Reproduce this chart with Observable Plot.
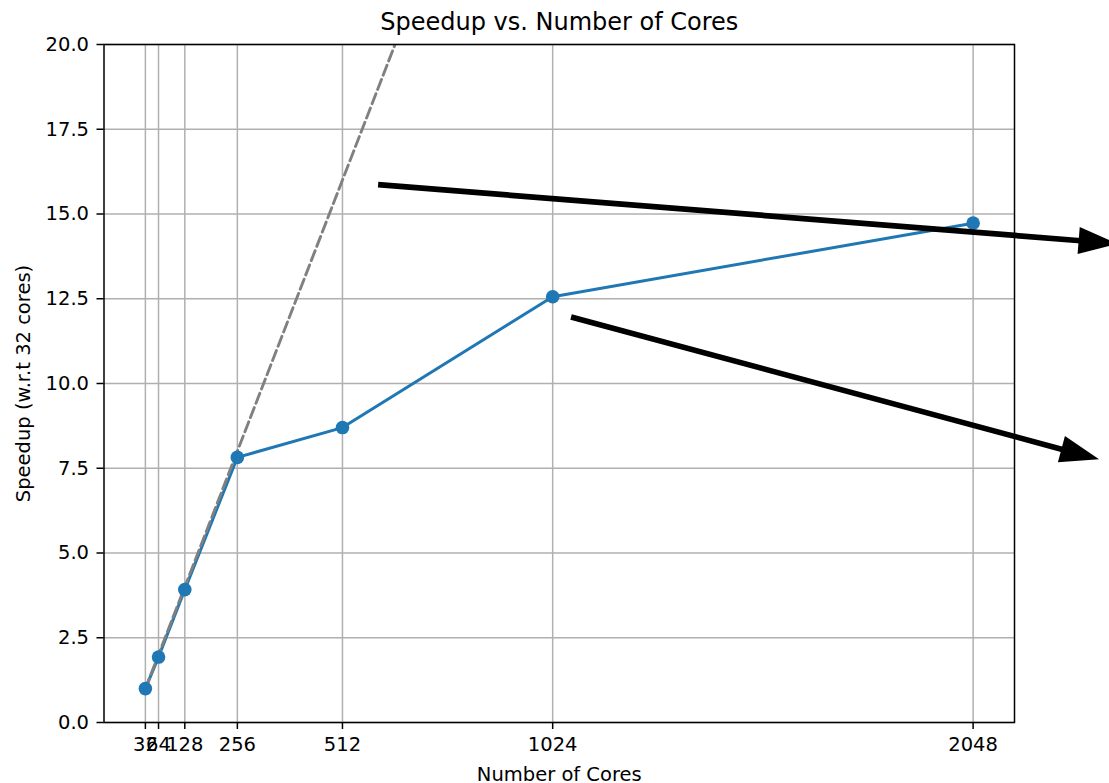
<!DOCTYPE html>
<html><head><meta charset="utf-8">
<script src="https://cdn.jsdelivr.net/npm/d3@7"></script>
<script src="https://cdn.jsdelivr.net/npm/@observablehq/plot@0.6"></script>
<style>
html,body{margin:0;padding:0;background:#fff;overflow:hidden;}
#chart svg{overflow:hidden;display:block;}
</style></head><body><div id="chart"></div>
<script>
const cores = [32, 64, 128, 256, 512, 1024, 2048];
const speedup = [1.0, 1.93, 3.92, 7.82, 8.70, 12.56, 14.73];
const idealSpeedup = [1, 2, 4, 8, 16, 32, 64];
const yTicks = [0, 2.5, 5, 7.5, 10, 12.5, 15, 17.5, 20];
const arrowFromX = [600, 1070];
const arrowFromY = [15.85, 11.95];
const arrowToX = [2401, 2356];
const arrowToY = [14.11, 7.75];
const title = "Speedup vs. Number of Cores";
const xLabel = "Number of Cores";
const yLabel = "Speedup (w.r.t 32 cores)";

const measured = cores.map((c, i) => ({cores: c, speedup: speedup[i]}));
const ideal = cores.map((c, i) => ({cores: c, speedup: idealSpeedup[i]}));
const arrows = arrowFromX.map((x, i) => ({x1: x, y1: arrowFromY[i], x2: arrowToX[i], y2: arrowToY[i]}));

const font = "DejaVu Sans, sans-serif";

function filledArrows(data, {shaft = 5.7, headLength = 39, headWidth = 27} = {}) {
  return (index, scales, values, dimensions, context) => {
    const g = d3.create("svg:g").attr("aria-label", "annotation arrows");
    for (const a of data) {
      const x1 = scales.x(a.x1), y1 = scales.y(a.y1), x2 = scales.x(a.x2), y2 = scales.y(a.y2);
      const dx = x2 - x1, dy = y2 - y1, L = Math.hypot(dx, dy), ux = dx / L, uy = dy / L;
      const bx = x2 - ux * headLength, by = y2 - uy * headLength;
      const px = -uy, py = ux, hw = headWidth / 2;
      g.append("line")
        .attr("x1", x1).attr("y1", y1)
        .attr("x2", bx + ux * 2).attr("y2", by + uy * 2)
        .attr("stroke", "black").attr("stroke-width", shaft);
      g.append("path")
        .attr("d", `M${x2},${y2}L${bx + px * hw},${by + py * hw}L${bx - px * hw},${by - py * hw}Z`)
        .attr("fill", "black");
    }
    return g.node();
  };
}

const chart = Plot.plot({
  width: 1109,
  height: 783,
  marginLeft: 103.5,
  marginRight: 95,
  marginTop: 44,
  marginBottom: 61,
  style: {fontFamily: font, fontSize: "19.5px", color: "black", background: "white"},
  x: {domain: [-68.8, 2148.8]},
  y: {domain: [0, 20]},
  marks: [
    Plot.gridX(cores, {stroke: "#b0b0b0", strokeOpacity: 1, strokeWidth: 1.5}),
    Plot.gridY(yTicks, {stroke: "#b0b0b0", strokeOpacity: 1, strokeWidth: 1.5}),
    Plot.line(measured, {x: "cores", y: "speedup", stroke: "#1f77b4", strokeWidth: 3}),
    Plot.line(ideal, {x: "cores", y: "speedup", stroke: "#808080", strokeWidth: 2.9, strokeDasharray: "10.7,4.6", clip: true}),
    Plot.dot(measured, {x: "cores", y: "speedup", r: 6.8, fill: "#1f77b4", stroke: "none"}),
    Plot.frame({stroke: "black", strokeWidth: 1.5}),
    Plot.axisX({ticks: cores, tickSize: 7, tickPadding: 8, tickFormat: d => String(d), label: null, fontSize: 19.5, strokeWidth: 1.5}),
    Plot.axisY({ticks: yTicks, tickSize: 7, tickPadding: 8, tickFormat: d => d.toFixed(1), label: null, fontSize: 19.5, strokeWidth: 1.5}),
    Plot.text([title], {text: d => d, frameAnchor: "top", lineAnchor: "middle", dy: -22, fontSize: 24, fill: "black"}),
    Plot.text([xLabel], {text: d => d, frameAnchor: "bottom", lineAnchor: "middle", dy: 52, fontSize: 19.5, fill: "black"}),
    Plot.text([yLabel], {text: d => d, frameAnchor: "left", textAnchor: "middle", lineAnchor: "middle", dx: -80, rotate: -90, fontSize: 19.5, fill: "black"}),
    filledArrows(arrows)
  ]
});
document.getElementById("chart").appendChild(chart);
</script>
</body></html>
